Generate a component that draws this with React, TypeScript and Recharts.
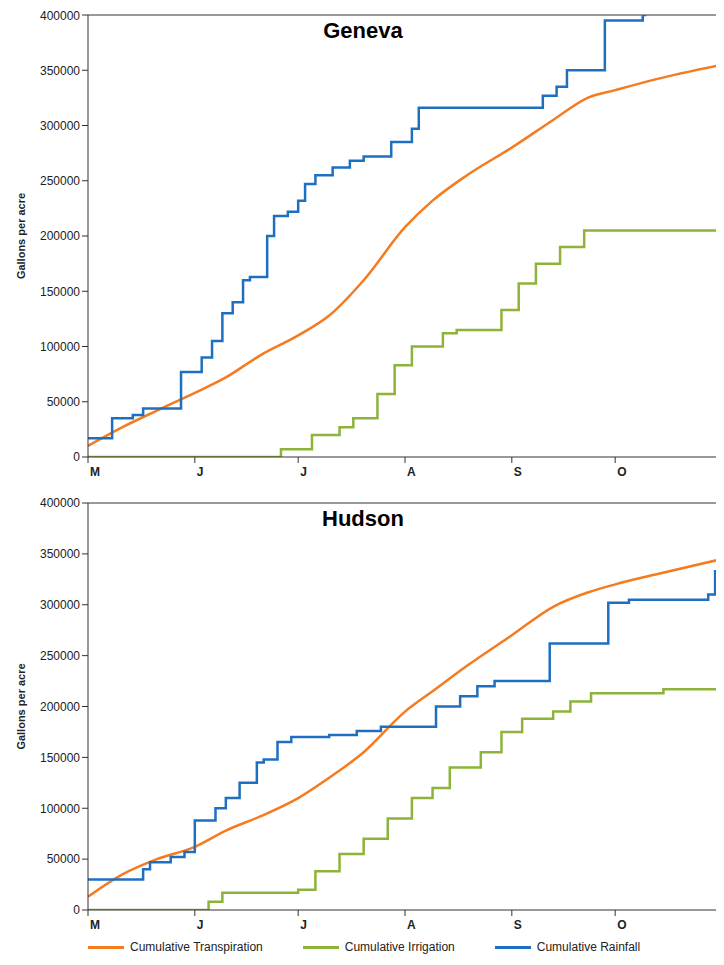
import { LineChart, Line, XAxis, YAxis, ReferenceLine } from 'recharts';

const monthTicks = [0, 31, 61, 92, 123, 153, 184];
const monthLabels = ['M', 'J', 'J', 'A', 'S', 'O', ''];
const yTicks = [0, 50000, 100000, 150000, 200000, 250000, 300000, 350000, 400000];

type Pt = { day: number; v: number };
const pts = (a: number[][]): Pt[] => a.map(([day, v]) => ({ day, v }));

const genevaRain = pts([[0,17000],[7,35000],[13,38000],[16,44000],[27,77000],[33,90000],[36,105000],[39,130000],[42,140000],[45,160000],[47,163000],[52,200000],[54,218000],[58,222000],[61,232000],[63,247000],[66,255000],[71,262000],[76,268000],[80,272000],[88,285000],[94,297000],[96,316000],[132,327000],[136,335000],[139,350000],[150,395000],[161,400000],[162,400000]]);
const genevaTrans = pts([[0,10000],[10,27000],[20,42000],[31,58000],[40,72000],[50,92000],[61,110000],[70,128000],[80,160000],[92,208000],[100,232000],[110,255000],[123,280000],[135,305000],[145,325000],[153,332000],[165,342000],[184,355000]]);
const genevaIrr = pts([[0,0],[56,7000],[65,20000],[73,27000],[77,35000],[84,57000],[89,83000],[94,100000],[103,112000],[107,115000],[120,133000],[125,157000],[130,175000],[137,190000],[144,205000],[184,205000]]);

const hudsonRain = pts([[0,30000],[16,40000],[18,47000],[24,52000],[28,57000],[31,88000],[37,100000],[40,110000],[44,125000],[49,145000],[51,148000],[55,165000],[59,170000],[70,172000],[78,176000],[85,180000],[101,200000],[108,210000],[113,220000],[118,225000],[134,262000],[151,302000],[157,305000],[180,310000],[182,333000],[184,335000]]);
const hudsonTrans = pts([[0,13000],[10,35000],[20,50000],[31,62000],[40,78000],[50,92000],[61,110000],[70,130000],[80,155000],[92,195000],[100,215000],[110,240000],[123,270000],[135,298000],[145,312000],[153,320000],[165,330000],[184,345000]]);
const hudsonIrr = pts([[0,0],[35,8000],[39,17000],[61,20000],[66,38000],[73,55000],[80,70000],[87,90000],[94,110000],[100,120000],[105,140000],[114,155000],[120,175000],[126,188000],[135,195000],[140,205000],[146,213000],[167,217000],[184,217000]]);

const ORANGE = '#f47b20';
const GREEN = '#8db33a';
const BLUE = '#1f6fc1';
const FONT = 'Liberation Sans, Arial, sans-serif';

const MonthTick = (p: any) => (
  <text x={p.x + 2} y={p.y + 11} fontSize={12} fontFamily={FONT} fontWeight="bold" fill="#222">
    {monthLabels[monthTicks.indexOf(p.payload.value)]}
  </text>
);

function Panel({ title, rain, trans, irr, height, top }: { title: string; rain: Pt[]; trans: Pt[]; irr: Pt[]; height: number; top: number }) {
  return (
    <div style={{ position: 'relative' }}>
      <div style={{ position: 'absolute', left: 0, width: 710, textAlign: 'center', top: top + 3, fontFamily: FONT, fontWeight: 'bold', fontSize: 22 }}>
        {title}
      </div>
      <LineChart width={716} height={height} margin={{ top, right: 2, left: 0, bottom: 0 }}>
        <XAxis dataKey="day" type="number" domain={[0, 184]} ticks={monthTicks} tick={<MonthTick />} stroke="#333" allowDuplicatedCategory={false} height={24} />
        <YAxis type="number" domain={[0, 400000]} ticks={yTicks} width={80} stroke="#333" tick={{ fontSize: 12, fontFamily: FONT, fill: '#222' }} allowDataOverflow
          label={{ value: 'Gallons per acre', angle: -90, position: 'insideLeft', dx: 8, style: { fontSize: 11, fontWeight: 'bold', fontFamily: FONT, fill: '#222', textAnchor: 'middle' } }} />
        <ReferenceLine y={400000} stroke="#333" />
        <ReferenceLine x={184} stroke="#333" />
        <Line data={irr} dataKey="v" type="stepAfter" stroke={GREEN} strokeWidth={2.5} dot={false} isAnimationActive={false} />
        <Line data={trans} dataKey="v" type="monotone" stroke={ORANGE} strokeWidth={2.5} dot={false} isAnimationActive={false} />
        <Line data={rain} dataKey="v" type="stepAfter" stroke={BLUE} strokeWidth={2.5} dot={false} isAnimationActive={false} />
      </LineChart>
    </div>
  );
}

const legend = [
  { name: 'Cumulative Transpiration', color: ORANGE },
  { name: 'Cumulative Irrigation', color: GREEN },
  { name: 'Cumulative Rainfall', color: BLUE },
];

export default function App() {
  return (
    <div style={{ width: 716, background: '#fff' }}>
      <Panel title="Geneva" rain={genevaRain} trans={genevaTrans} irr={genevaIrr} height={473} top={7} />
      <Panel title="Hudson" rain={hudsonRain} trans={hudsonTrans} irr={hudsonIrr} height={453} top={22} />
      <div style={{ display: 'flex', marginTop: 6, marginLeft: 80, gap: 40, fontFamily: FONT, fontSize: 12, color: '#222' }}>
        {legend.map((l) => (
          <div key={l.name} style={{ display: 'flex', alignItems: 'center' }}>
            <span style={{ display: 'inline-block', width: 36, height: 3, background: l.color, marginRight: 6 }} />
            {l.name}
          </div>
        ))}
      </div>
    </div>
  );
}
